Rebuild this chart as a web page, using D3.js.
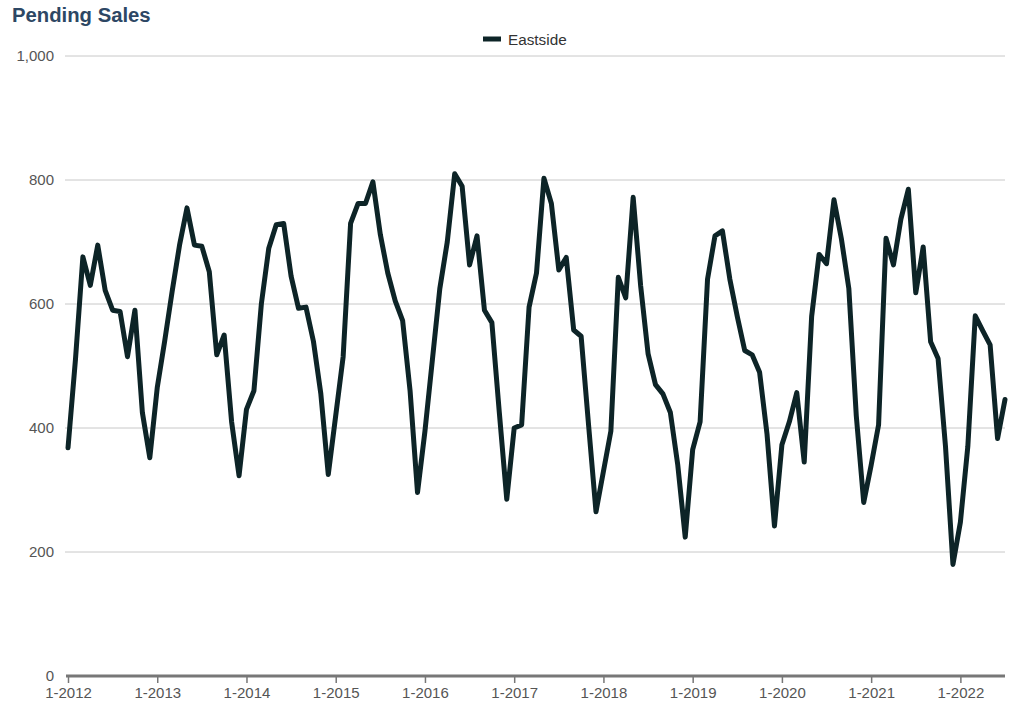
<!DOCTYPE html>
<html>
<head>
<meta charset="utf-8">
<script src="https://cdn.jsdelivr.net/npm/d3@7"></script>
<style>
  html, body { margin: 0; padding: 0; background: #fff; }
  svg { display: block; font-family: "Liberation Sans", Arial, sans-serif; }
</style>
</head>
<body>
<svg id="chart" width="1024" height="704"></svg>
<script>
const seriesName = "Eastside";
const startYear = 2012;
const values = [
  368, 510, 676, 630, 695, 622, 590, 588, 515, 590, 425, 352,
  465, 540, 620, 695, 755, 695, 693, 652, 518, 550, 410, 323,
  430, 460, 600, 690, 728, 730, 645, 593, 595, 540, 455, 325,
  420, 515, 730, 762, 762, 797, 712, 650, 605, 573, 460, 296,
  395, 510, 625, 700, 810, 790, 663, 710, 590, 570, 425, 285,
  400, 405, 595, 650, 803, 762, 655, 675, 558, 548, 405, 265,
  330, 395, 643, 610, 772, 630, 520, 470, 455, 425, 340, 224,
  365, 410, 640, 710, 718, 640, 580, 525, 518, 490, 390, 242,
  373, 410, 457, 345, 580, 680, 665, 768, 705, 625, 420, 280,
  340, 405, 706, 663, 737, 785, 618, 692, 539, 512, 370, 180,
  248, 370, 581, 557, 534, 383, 446
];
const yTicks = [0, 200, 400, 600, 800, 1000];
const xTickLabels = ["1-2012","1-2013","1-2014","1-2015","1-2016","1-2017","1-2018","1-2019","1-2020","1-2021","1-2022"];

const data = values.map((v, i) => ({ i, v }));
const svg = d3.select("#chart");

const x = d3.scaleLinear().domain([0, values.length - 1]).range([68, 1005]);
const y = d3.scaleLinear().domain([0, 1000]).range([676, 56]);

// Title
svg.append("text").attr("x", 12).attr("y", 22)
  .attr("font-size", 20.3).attr("font-weight", "bold").attr("fill", "#2d4764")
  .text("Pending Sales");

// Legend
svg.append("line").attr("x1", 483).attr("x2", 501).attr("y1", 39).attr("y2", 39)
  .attr("stroke", "#0d2427").attr("stroke-width", 5);
svg.append("text").attr("x", 508).attr("y", 44.5)
  .attr("font-size", 15.3).attr("fill", "#333").text(seriesName);

// Gridlines
svg.append("g").selectAll("line").data(yTicks.filter(d => d > 0)).join("line")
  .attr("x1", 65).attr("x2", 1005)
  .attr("y1", d => y(d)).attr("y2", d => y(d))
  .attr("stroke", "#c8c8c8").attr("stroke-width", 1);

// Y axis labels
const yAxis = d3.axisLeft(y).tickValues(yTicks).tickSize(0).tickPadding(0)
  .tickFormat(d3.format(","));
const gy = svg.append("g").attr("transform", "translate(54,0)").call(yAxis);
gy.select(".domain").remove();
gy.selectAll("text").attr("font-size", 15).attr("fill", "#555")
  .attr("font-family", "'Liberation Sans', Arial, sans-serif");

// X axis
const xTickIdx = xTickLabels.map((_, k) => k * 12);
const xAxis = d3.axisBottom(x).tickValues(xTickIdx).tickSize(7).tickPadding(4)
  .tickFormat((d, k) => xTickLabels[k]);
const gx = svg.append("g").attr("transform", "translate(0,676)").call(xAxis);
gx.select(".domain").attr("stroke", "#777").attr("stroke-width", 3)
  .attr("d", "M66,0H1005");
gx.selectAll(".tick line").attr("stroke", "#777").attr("stroke-width", 1.5);
gx.selectAll("text").attr("font-size", 15).attr("fill", "#555")
  .attr("font-family", "'Liberation Sans', Arial, sans-serif");

// Line
const line = d3.line().x(d => x(d.i)).y(d => y(d.v));
svg.append("path").datum(data).attr("d", line)
  .attr("fill", "none").attr("stroke", "#0d2427").attr("stroke-width", 5)
  .attr("stroke-linejoin", "round").attr("stroke-linecap", "round");
</script>
</body>
</html>
